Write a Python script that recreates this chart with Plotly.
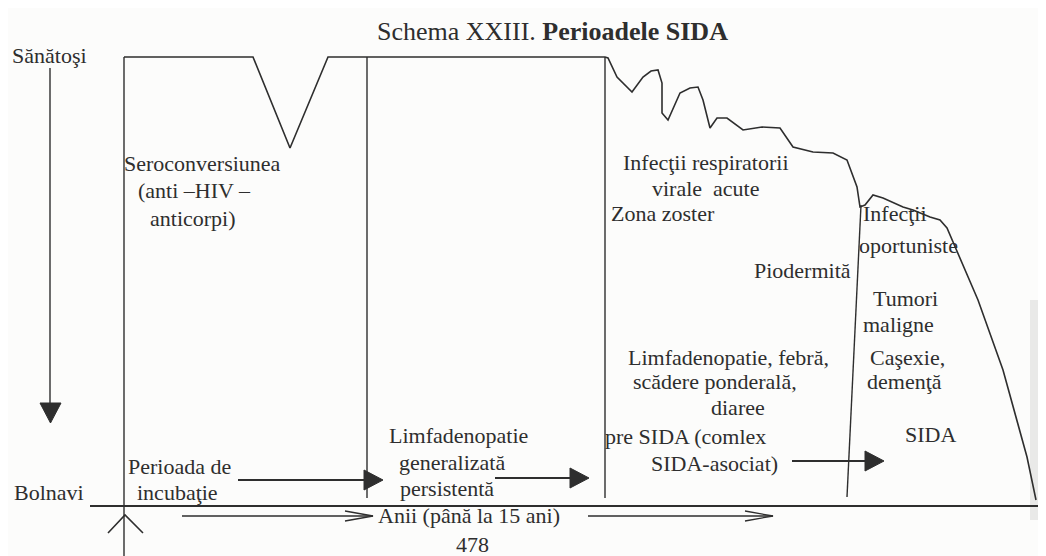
import plotly.graph_objects as go

W, H = 1046, 556
PAD = 8  # browser default body margin; the plot is drawn so that data units = window pixels

# ---- data (diagram coordinates: x = time position, y = health level; 57 = healthy) ----
curve_x = [124, 253, 290, 328, 605, 608, 617, 632, 643, 651, 658, 662, 662, 668, 680,
           690, 698, 703, 710, 717, 727, 743, 762, 780, 793, 813, 833, 847, 857, 860,
           865, 873, 883, 895, 903, 913, 930, 940, 947, 978, 1003, 1027, 1036]
curve_y = [57, 57, 148, 57, 57, 58, 77, 92, 77, 71, 70, 83, 113, 120, 93,
           88, 87, 100, 128, 118, 118, 130, 127, 128, 147, 152, 153, 160, 187, 207,
           205, 195, 198, 203, 207, 210, 217, 220, 228, 300, 370, 457, 500]

# period dividers (x_top, y_top, x_bottom, y_bottom)
div_x0 = [124, 367, 605, 861]
div_y0 = [57, 57, 57, 205]
div_x1 = [124, 367, 605, 847]
div_y1 = [556, 498, 498, 497]

# period labels
label_text = ["Sănătoşi", "Bolnavi",
              "Seroconversiunea", "(anti –HIV –", "anticorpi)",
              "Infecţii respiratorii", "virale  acute", "Zona zoster",
              "Infecţii", "oportuniste", "Piodermită",
              "Tumori", "maligne", "Caşexie,", "demenţă",
              "Limfadenopatie, febră,", "scădere ponderală,", "diaree",
              "pre SIDA (comlex", "SIDA-asociat)", "SIDA",
              "Perioada de", "incubaţie",
              "Limfadenopatie", "generalizată", "persistentă",
              "Anii (până la 15 ani)", "478"]
label_x = [10, 12,
           122, 136, 148,
           706, 706, 609,
           861, 908, 853,
           905, 898, 907, 904,
           728, 715, 738,
           603, 714, 930,
           126, 135,
           458, 452, 447,
           469, 472]
label_y = [55, 492,
           163, 190, 218,
           162, 188, 213,
           213, 245, 270,
           298, 324, 357, 381,
           357, 381, 407,
           436, 463, 434,
           466, 492,
           435, 462, 488,
           515, 544]
label_anchor = ["left", "left",
                "left", "left", "left",
                "center", "center", "left",
                "left", "center", "right",
                "center", "center", "center", "center",
                "center", "center", "center",
                "left", "center", "center",
                "left", "left",
                "center", "center", "center",
                "center", "center"]

# filled arrows (x_start, x_end, y)
arrow_x0 = [238, 495, 792]
arrow_x1 = [383, 589, 884]
arrow_y = [480, 478, 461]

# open arrows on the time axis
open_x0 = [182, 588]
open_x1 = [373, 773]
open_y = [516, 516]

INK = "#2e2e2e"
FONT = "Liberation Serif"

fig = go.Figure()

# health curve
fig.add_trace(go.Scatter(x=curve_x, y=curve_y, mode="lines",
                         line=dict(color=INK, width=1.6), hoverinfo="skip",
                         showlegend=False))

shapes = []
# page shadow at right edge
shapes.append(dict(type="rect", xref="x", yref="y", x0=1030, x1=1046, y0=300, y1=520,
                   fillcolor="#dcdcdc", line=dict(width=0), layer="below", opacity=0.6))
shapes.append(dict(type="rect", xref="x", yref="y", x0=1038, x1=1046, y0=340, y1=505,
                   fillcolor="#bcbcbc", line=dict(width=0), layer="below", opacity=0.7))

for a, b, c, d in zip(div_x0, div_y0, div_x1, div_y1):
    shapes.append(dict(type="line", xref="x", yref="y", x0=a, y0=b, x1=c, y1=d,
                       line=dict(color=INK, width=1.4)))

# time axis
shapes.append(dict(type="line", xref="x", yref="y", x0=90, y0=506, x1=W, y1=506,
                   line=dict(color=INK, width=1.8)))
# chevron under origin
shapes.append(dict(type="path", xref="x", yref="y",
                   path="M 108 533 L 125 515 L 143 533",
                   line=dict(color=INK, width=1.6)))

# vertical health arrow
shapes.append(dict(type="line", xref="x", yref="y", x0=50, y0=68, x1=50, y1=405,
                   line=dict(color=INK, width=1.4)))
shapes.append(dict(type="path", xref="x", yref="y",
                   path="M 40 403 L 61 403 L 50.5 423 Z",
                   fillcolor=INK, line=dict(color=INK, width=1)))

# filled arrows
for a, b, y in zip(arrow_x0, arrow_x1, arrow_y):
    shapes.append(dict(type="line", xref="x", yref="y", x0=a, y0=y, x1=b - 16, y1=y,
                       line=dict(color=INK, width=1.8)))
    shapes.append(dict(type="path", xref="x", yref="y",
                       path=f"M {b-19} {y-10} L {b} {y} L {b-19} {y+10} Z",
                       fillcolor=INK, line=dict(color=INK, width=1)))

# open arrows
for a, b, y in zip(open_x0, open_x1, open_y):
    shapes.append(dict(type="line", xref="x", yref="y", x0=a, y0=y, x1=b, y1=y,
                       line=dict(color=INK, width=1.5)))
    shapes.append(dict(type="path", xref="x", yref="y",
                       path=f"M {b-28} {y-5} L {b} {y} L {b-28} {y+5}",
                       line=dict(color=INK, width=1.3)))

annotations = []
annotations.append(dict(x=552, y=31, xref="x", yref="y",
                        text="Schema XXIII. <b>Perioadele SIDA</b>",
                        showarrow=False, xanchor="center", yanchor="middle",
                        font=dict(family=FONT, size=26, color=INK)))
for t, x, y, anc in zip(label_text, label_x, label_y, label_anchor):
    annotations.append(dict(x=x, y=y, xref="x", yref="y", text=t, showarrow=False,
                            xanchor=anc, yanchor="middle",
                            font=dict(family=FONT, size=22, color=INK)))

fig.update_layout(
    width=W - PAD, height=H - PAD,
    margin=dict(l=0, r=0, t=0, b=0),
    paper_bgcolor="#fcfcfb", plot_bgcolor="#fcfcfb",
    xaxis=dict(range=[PAD, W], visible=False, fixedrange=True),
    yaxis=dict(range=[H, PAD], visible=False, fixedrange=True),
    shapes=shapes, annotations=annotations,
    showlegend=False,
)

fig.write_html("out.html")
